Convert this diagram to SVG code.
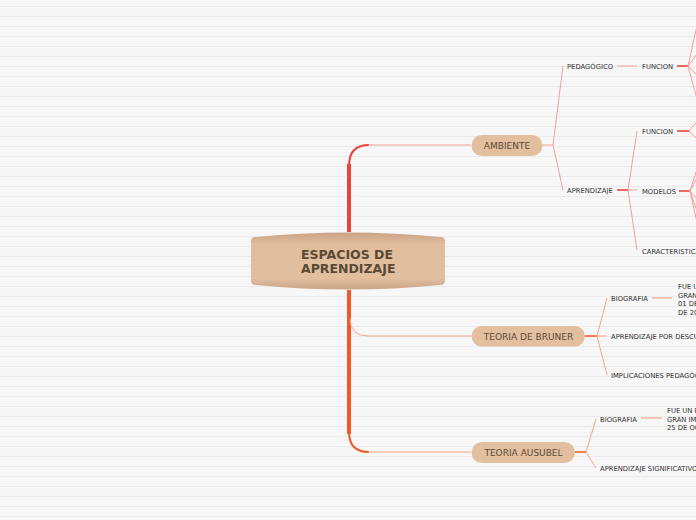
<svg xmlns="http://www.w3.org/2000/svg" width="696" height="520" viewBox="0 0 696 520">
<defs>
<linearGradient id="cg" x1="0" y1="0" x2="0" y2="1"><stop offset="0" stop-color="#c8a385"/><stop offset="0.2" stop-color="#e0bd9d"/><stop offset="0.8" stop-color="#e2bf9f"/><stop offset="1" stop-color="#c9a689"/></linearGradient>
<style>
.pill{fill:#e2bf9f}
.main{font-family:"DejaVu Sans",Verdana,sans-serif;font-size:9px;fill:#5c4b37;text-anchor:middle}
.lbl{font-family:"DejaVu Sans",Verdana,sans-serif;font-size:6.8px;fill:#333}
.pk{stroke:#f4a098;stroke-width:1;fill:none}
.rd{stroke:#e85a4c;stroke-width:1.8;fill:none}
.or{stroke:#f6a687;stroke-width:1;fill:none}
.ot{stroke:#f0703f;stroke-width:1.8;fill:none}
.ol{stroke:#f7b8a0;stroke-width:1.6;fill:none}
</style>
</defs>
<rect width="696" height="520" fill="#f7f7f7"/>
<path stroke="#ebebeb" stroke-width="1" fill="none" d="M0,6.5H696M0,16.5H696M0,26.5H696M0,36.5H696M0,46.5H696M0,56.5H696M0,66.5H696M0,76.5H696M0,86.5H696M0,96.5H696M0,106.5H696M0,116.5H696M0,126.5H696M0,136.5H696M0,146.5H696M0,156.5H696M0,166.5H696M0,176.5H696M0,186.5H696M0,196.5H696M0,206.5H696M0,216.5H696M0,226.5H696M0,236.5H696M0,246.5H696M0,256.5H696M0,266.5H696M0,276.5H696M0,286.5H696M0,296.5H696M0,306.5H696M0,316.5H696M0,326.5H696M0,336.5H696M0,346.5H696M0,356.5H696M0,366.5H696M0,376.5H696M0,386.5H696M0,396.5H696M0,406.5H696M0,416.5H696M0,426.5H696M0,436.5H696M0,446.5H696M0,456.5H696M0,466.5H696M0,476.5H696M0,486.5H696M0,496.5H696M0,506.5H696M0,516.5H696"/>
<g id="connectors">
<path d="M349,232 V164" stroke="#e8443b" stroke-width="4" fill="none"/>
<path d="M349,166 Q349,145 369,145" stroke="#e8443b" stroke-width="2" fill="none"/>
<path d="M368,145 H471" class="pk"/>
<path d="M349,290 V434" stroke="#ef5a28" stroke-width="4" fill="none"/>
<path d="M350,318 Q350,336 368,336 H471" class="or"/>
<path d="M349,432 Q349,452 369,452" stroke="#ef5a28" stroke-width="2" fill="none"/>
<path d="M368,452 H471" class="or"/>
<path d="M542,145 H553 M553,145 L563,66 M553,145 L563,190" class="pk"/>
<path d="M617,66 H637" class="pk"/>
<path d="M677,66 H688" class="rd"/>
<path d="M688,66 L700,12 M688,66 L700,50 M688,66 L700,78 M688,66 L700,110" class="pk"/>
<path d="M617,190 H628" class="rd"/>
<path d="M628,190 L637,131 M628,190 H637 M628,190 L637,250" class="pk"/>
<path d="M677,131 H689" class="rd"/>
<path d="M689,131 L700,118 M689,131 L700,142" class="pk"/>
<path d="M679,191 H690" class="rd"/>
<path d="M690,191 L700,160 M690,191 L700,172 M690,191 L700,202 M690,191 L700,220 M690,191 L700,236" class="pk"/>
<path d="M585,336 H597" class="ot"/>
<path d="M597,336 L607,298 M597,336 H607 M597,336 L607,375" class="or"/>
<path d="M652,298 H672" class="ol"/>
<path d="M575,452 H586" class="ot"/>
<path d="M586,452 L596,419 M586,452 L596,468" class="or"/>
<path d="M641,418 H662" class="ol"/>
</g>
<g id="central">
<path d="M251,241 Q251,237 256,237 Q348,228 440,237 Q445,237 445,241 L445,281 Q445,285 440,285 Q348,294 256,285 Q251,285 251,281 Z" fill="url(#cg)"/>
<text x="301" y="258.5" font-family="DejaVu Sans,Verdana,sans-serif" font-size="12.5" font-weight="bold" fill="#5a4a35">ESPACIOS DE</text>
<text x="301" y="272.5" font-family="DejaVu Sans,Verdana,sans-serif" font-size="12.5" font-weight="bold" fill="#5a4a35">APRENDIZAJE</text>
</g>
<g id="ambiente"><rect x="471.5" y="135" width="71" height="21" rx="10.5" class="pill"/><text x="507" y="148.5" class="main">AMBIENTE</text></g>
<g id="bruner"><rect x="471.5" y="326" width="113.5" height="20.5" rx="10.2" class="pill"/><text x="528.5" y="339.5" class="main">TEORIA DE BRUNER</text></g>
<g id="ausubel"><rect x="471.5" y="442" width="103.5" height="21" rx="10.5" class="pill"/><text x="523.5" y="455.5" class="main">TEORIA AUSUBEL</text></g>
<g id="pedagogico"><text x="567" y="68.5" class="lbl">PEDAGÓGICO</text></g>
<g id="funcion1"><text x="642" y="68.5" class="lbl">FUNCION</text></g>
<g id="aprendizaje"><text x="567" y="192.5" class="lbl">APRENDIZAJE</text></g>
<g id="funcion2"><text x="642" y="133.5" class="lbl">FUNCION</text></g>
<g id="modelos"><text x="642" y="193.5" class="lbl">MODELOS</text></g>
<g id="caracteristicas"><text x="642" y="253.5" class="lbl">CARACTERISTICAS</text></g>
<g id="biografia1"><text x="611" y="300.5" class="lbl">BIOGRAFIA</text></g>
<g id="bio1text"><text class="lbl"><tspan x="678" y="289">FUE UN</tspan><tspan x="678" y="297.5">GRAN</tspan><tspan x="678" y="306">01 DE</tspan><tspan x="678" y="314.5">DE 20</tspan></text></g>
<g id="descubrimiento"><text x="611" y="338.5" class="lbl">APRENDIZAJE POR DESCUBRIMIENTO</text></g>
<g id="implicaciones"><text x="611" y="377.5" class="lbl">IMPLICACIONES PEDAGÓGICAS</text></g>
<g id="biografia2"><text x="600" y="421.5" class="lbl">BIOGRAFIA</text></g>
<g id="bio2text"><text class="lbl"><tspan x="667" y="413">FUE UN F</tspan><tspan x="667" y="421.5">GRAN IM</tspan><tspan x="667" y="430">25 DE OC</tspan></text></g>
<g id="significativo"><text x="600" y="470.5" class="lbl">APRENDIZAJE SIGNIFICATIVO</text></g>
</svg>
